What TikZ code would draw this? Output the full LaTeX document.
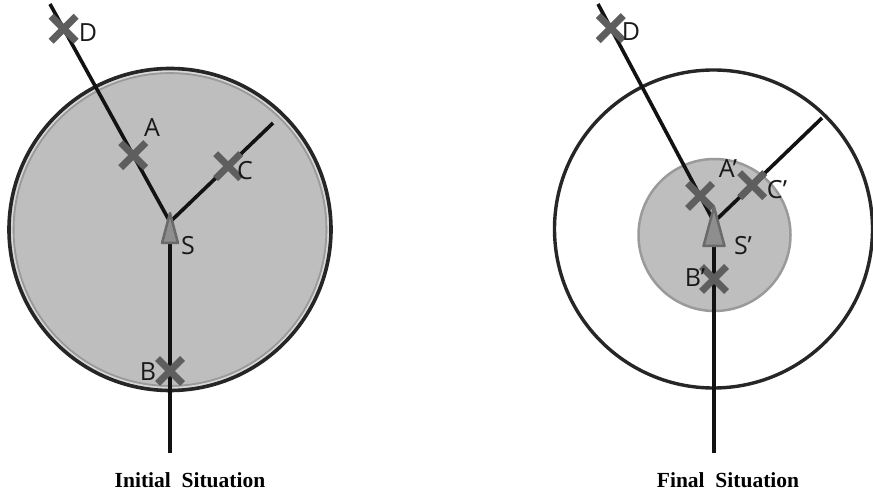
\documentclass[tikz,border=0pt]{standalone}
\usepackage{fontspec}
\setmainfont{Liberation Serif}
\newfontfamily\lab{Open Sans}
\usetikzlibrary{shapes.misc,calc}
\definecolor{wireblack}{HTML}{121212}
\definecolor{xgray}{HTML}{5E5E5E}
\definecolor{discfill}{HTML}{BEBEBE}
\definecolor{discedge}{HTML}{9A9A9A}
\definecolor{lightring}{HTML}{D8D8D8}
\definecolor{trifill}{HTML}{8E8E8E}
\definecolor{triedge}{HTML}{6A6A6A}
\tikzset{
  wire/.style={draw=wireblack,line width=3.6pt},
  xmark/.style={cross out,draw=xgray,line width=7pt,minimum size=18pt,inner sep=0pt},
  lbl/.style={font=\lab\fontsize{25}{25}\selectfont,inner sep=0pt,text=black!90},
  ttl/.style={font=\bfseries\fontsize{21.5}{21.5}\selectfont,inner sep=0pt,anchor=base},
  tri/.style={fill=trifill,draw=triedge,line width=2.5pt,line join=round},
  pt/.style={inner sep=0pt,minimum size=0pt}
}
\begin{document}
\begin{tikzpicture}[x=1pt,y=-1pt]
\useasboundingbox (0,0) rectangle (873,494);
\fill[white] (0,0) rectangle (873,494);
% ---------- left: initial situation ----------
\node[pt] (Lc) at (170,229.5) {};
\fill[discfill] (Lc) circle (161);
\draw[lightring,line width=2pt] (Lc) circle (158.3);
\draw[discedge,line width=1.8pt] (Lc) circle (156.4);
\draw[black!85,line width=3.6pt] (Lc) circle (161);
\coordinate (LDend) at (50,4);
\coordinate (LCend) at (273,123);
\coordinate (LBend) at (170,453);
\node[pt] (LS) at (170,222) {};
\node[pt] (LSb) at (170,243) {};
\draw[wire] (LDend) -- (LS);
\draw[wire] (LCend) -- (LS);
\draw[wire] (LSb) -- (LBend);
\node[xmark] (LD) at ($(LDend)!(65,28)!(LS)$) {};
\node[xmark] (LA) at ($(LDend)!(130,157)!(LS)$) {};
\node[xmark] (LCx) at ($(LCend)!(228,166)!(LS)$) {};
\node[xmark] (LB) at (170,371) {};
\filldraw[tri] (170,213) -- (178,243) -- (162,243) -- cycle;
\node[lbl] at (88,33) {D};
\node[lbl] at (152,128) {A};
\node[lbl] at (245,171) {C};
\node[lbl] at (188,246) {S};
\node[lbl] at (148,372) {B};
\node[ttl] at (190,487) {Initial\hspace{0.5em}Situation};
% ---------- right: final situation ----------
\node[pt] (Rc) at (713.5,229) {};
\draw[black!85,line width=3.4pt] (Rc) circle (159);
\node[pt] (Ric) at (714.5,235) {};
\filldraw[fill=discfill,draw=discedge,line width=2.5pt] (Ric) circle (76);
\coordinate (RDend) at (598,4);
\coordinate (RCend) at (822,118);
\coordinate (RBend) at (714,453);
\node[pt] (RS) at (714,222) {};
\node[pt] (RSb) at (714,246) {};
\draw[wire] (RDend) -- (RS);
\draw[wire] (RCend) -- (RS);
\draw[wire] (RSb) -- (RBend);
\node[xmark] (RD) at ($(RDend)!(611,28)!(RS)$) {};
\node[xmark] (RA) at ($(RDend)!(698,197)!(RS)$) {};
\node[xmark] (RCx) at ($(RCend)!(752,185)!(RS)$) {};
\node[xmark] (RB) at (714,279) {};
\filldraw[tri] (714,207) -- (724.5,246) -- (703.5,246) -- cycle;
\node[lbl] at (631,32) {D};
\node[lbl] at (728,169) {A’};
\node[lbl] at (777,190) {C’};
\node[lbl] at (743,246) {S’};
\node[lbl] at (695,278) {B’};
\node[ttl] at (728,487) {Final\hspace{0.5em}Situation};
\end{tikzpicture}
\end{document}
